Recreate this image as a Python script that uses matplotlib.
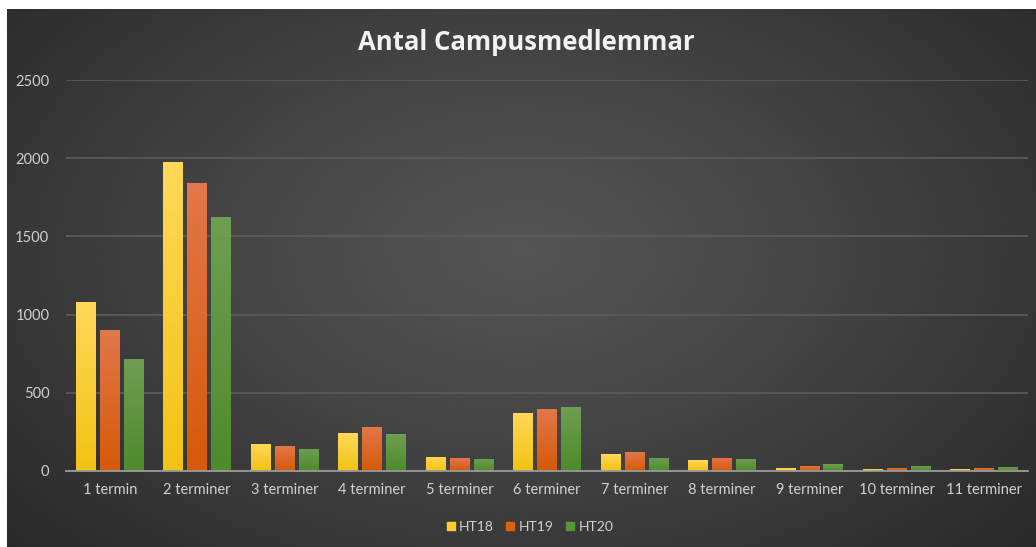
import numpy as np
import matplotlib
matplotlib.use("Agg")
from matplotlib import pyplot as plt
from matplotlib.colors import LinearSegmentedColormap

categories = ["1 termin", "2 terminer", "3 terminer", "4 terminer", "5 terminer",
              "6 terminer", "7 terminer", "8 terminer", "9 terminer", "10 terminer",
              "11 terminer"]
series = ["HT18", "HT19", "HT20"]
ht18 = [1080, 1976, 173, 241, 92, 371, 107, 68, 19, 11, 11]
ht19 = [903, 1841, 158, 279, 81, 399, 120, 85, 32, 20, 20]
ht20 = [716, 1624, 141, 235, 75, 409, 85, 79, 43, 32, 26]
yticks = [0, 500, 1000, 1500, 2000, 2500]

# (top colour, bottom colour) for each series
bar_colors = [("#FFD858", "#F2C314"), ("#E2774A", "#D55A08"), ("#6E9E52", "#4E8B2B")]
legend_colors = ["#FFCE2E", "#DE600F", "#5A9639"]

plt.rcParams["font.family"] = ["Lato", "DejaVu Sans"]


def main():
    fig = plt.figure(figsize=(10.36, 5.47), dpi=100)
    fig.patch.set_facecolor("white")

    # dark radial background
    bg = fig.add_axes([7 / 1036, 0, 1 - 7 / 1036, 1 - 9 / 547])
    bg.set_axis_off()
    yy, xx = np.mgrid[0:1:300j, 0:1:600j]
    r = np.sqrt(((xx - 0.5) / 0.75) ** 2 + ((yy - 0.45) / 0.9) ** 2)
    shade = 0.33 - 0.19 * np.clip(r, 0, 1) ** 1.2
    bg.imshow(shade, cmap="gray", vmin=0, vmax=1, aspect="auto",
              extent=[0, 1, 0, 1], interpolation="bicubic")

    ax = fig.add_axes([66 / 1036, 1 - 471 / 547, (1028 - 66) / 1036, (471 - 80) / 547])
    ax.patch.set_alpha(0)

    x = np.arange(len(categories))
    width = 0.225
    step = 0.274
    handles = []
    for i, (name, vals) in enumerate(zip(series, [ht18, ht19, ht20])):
        cmap = LinearSegmentedColormap.from_list(name, [bar_colors[i][1], bar_colors[i][0]])
        bars = ax.bar(x + (i - 1) * step, vals, width, color=legend_colors[i],
                      zorder=3, linewidth=0)
        for b in bars:
            bx, by = b.get_x(), b.get_y()
            bw, bh = b.get_width(), b.get_height()
            grad = ax.imshow(np.linspace(0, 1, 64).reshape(-1, 1), cmap=cmap,
                             origin="lower", aspect="auto",
                             extent=[bx, bx + bw, by, by + bh], zorder=4)
            grad.set_clip_path(b)
        handles.append(plt.Line2D([], [], marker="s", linestyle="none",
                                  markersize=5.5, color=legend_colors[i], label=name))
    ax.set_xlim(-0.5, len(categories) - 0.5)
    ax.set_ylim(0, 2500)

    ax.set_yticks(yticks)
    ax.set_xticks(x)
    ax.set_xticklabels(categories)
    ax.yaxis.grid(True, color="#5C5C5C", linewidth=1.2, zorder=0)
    ax.tick_params(axis="both", length=0, colors="#D0D0D0", labelsize=10.5)
    ax.tick_params(axis="x", pad=9)
    ax.tick_params(axis="y", pad=12)
    for s in ["top", "right", "left"]:
        ax.spines[s].set_visible(False)
    ax.spines["bottom"].set_color("#9A9A9A")
    ax.spines["bottom"].set_linewidth(1.3)
    ax.spines["bottom"].set_zorder(5)

    fig.text(526 / 1036, 1 - 43 / 547, "Antal Campusmedlemmar", ha="center", va="center",
             color="#F2F2F2", fontsize=18.5, fontweight="bold",
             family=["Open Sans", "DejaVu Sans"])

    leg = fig.legend(handles=handles, loc="center", bbox_to_anchor=(530 / 1036, 1 - 527 / 547),
                     ncol=3, frameon=False, handlelength=0.6, handletextpad=0.3,
                     columnspacing=0.9, fontsize=10)
    for t in leg.get_texts():
        t.set_color("#D0D0D0")

    fig.savefig("out.png", dpi=100)


if __name__ == "__main__":
    main()
